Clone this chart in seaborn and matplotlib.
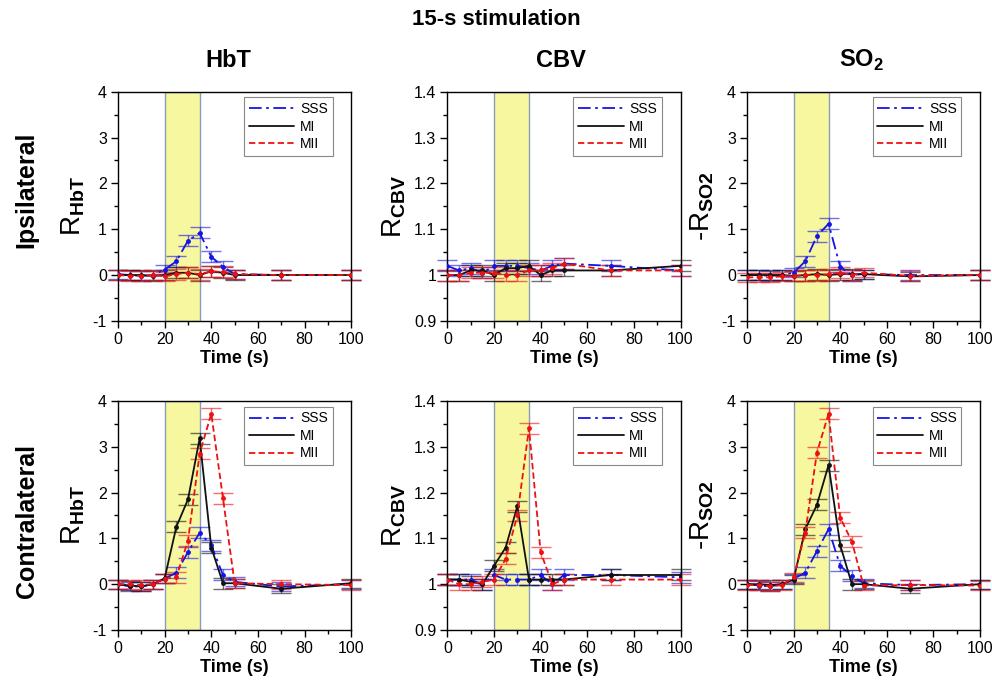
import pandas as pd
import matplotlib.pyplot as plt
import seaborn as sns
from matplotlib.lines import Line2D
from matplotlib.ticker import MultipleLocator

sns.set_theme(style="ticks")
plt.rcParams['font.family'] = ['Liberation Sans', 'DejaVu Sans']
plt.rcParams['mathtext.fontset'] = 'custom'
plt.rcParams['mathtext.rm'] = 'Liberation Sans'
plt.rcParams['mathtext.bf'] = 'Liberation Sans:bold'
plt.rcParams['axes.unicode_minus'] = False
plt.rcParams['text.color'] = 'black'
plt.rcParams['axes.labelcolor'] = 'black'

# time points (s)
time = [0, 5, 10, 15, 20, 25, 30, 35, 40, 45, 50, 70, 100]

# Ipsilateral
ip_hbt_sss = [0.02, 0.0, -0.02, 0.0, 0.12, 0.3, 0.75, 0.92, 0.4, 0.18, 0.02, 0.0, 0.0]
ip_hbt_mi = [0.0, 0.0, 0.0, -0.02, 0.0, 0.05, 0.05, 0.0, 0.08, 0.05, 0.0, 0.0, 0.0]
ip_hbt_mii = [0.0, -0.02, -0.02, 0.0, -0.03, 0.02, 0.05, 0.02, 0.08, 0.07, 0.02, 0.0, 0.0]

ip_cbv_sss = [1.02, 1.01, 1.015, 1.005, 1.02, 1.02, 1.02, 1.015, 1.01, 1.02, 1.025, 1.02, 1.01]
ip_cbv_mi = [1.0, 1.0, 1.01, 1.01, 1.0, 1.015, 1.015, 1.02, 1.0, 1.01, 1.01, 1.01, 1.02]
ip_cbv_mii = [1.0, 1.0, 1.005, 1.005, 1.005, 1.0, 1.0, 1.01, 1.01, 1.015, 1.025, 1.01, 1.01]

ip_so2_sss = [0.0, 0.0, -0.02, 0.0, 0.05, 0.3, 0.85, 1.12, 0.18, 0.0, 0.02, 0.0, 0.0]
ip_so2_mi = [0.0, 0.0, 0.0, 0.0, -0.02, 0.0, 0.02, 0.0, 0.02, 0.02, 0.02, -0.03, 0.0]
ip_so2_mii = [-0.05, -0.05, -0.05, -0.03, -0.02, 0.0, 0.0, 0.02, 0.05, 0.0, 0.05, -0.02, 0.0]

# Contralateral
co_hbt_sss = [0.0, -0.05, -0.05, 0.0, 0.12, 0.25, 0.7, 1.12, 0.85, 0.2, 0.05, -0.05, 0.0]
co_hbt_mi = [0.0, -0.03, -0.05, 0.0, 0.13, 1.25, 1.85, 3.18, 0.8, 0.02, 0.02, -0.1, 0.02]
co_hbt_mii = [0.0, 0.0, -0.02, 0.0, 0.12, 0.15, 0.95, 2.85, 3.72, 1.88, 0.02, 0.0, -0.02]

co_cbv_sss = [1.01, 1.01, 1.01, 1.0, 1.02, 1.01, 1.01, 1.01, 1.02, 1.0, 1.02, 1.02, 1.015]
co_cbv_mi = [1.01, 1.01, 1.005, 1.0, 1.04, 1.08, 1.17, 1.01, 1.01, 1.01, 1.01, 1.02, 1.02]
co_cbv_mii = [1.01, 1.0, 1.0, 1.005, 1.01, 1.055, 1.15, 1.34, 1.07, 1.0, 1.01, 1.01, 1.01]

co_so2_sss = [0.0, -0.03, -0.05, 0.0, 0.12, 0.25, 0.72, 1.2, 0.4, 0.18, 0.02, -0.02, 0.0]
co_so2_mi = [0.0, 0.0, -0.02, 0.0, 0.1, 1.2, 1.73, 2.6, 0.85, 0.0, 0.0, -0.1, 0.0]
co_so2_mii = [-0.02, -0.02, -0.05, -0.02, 0.15, 1.12, 2.87, 3.72, 1.45, 0.93, -0.03, -0.02, -0.03]

# error bar half-widths
err_r = [0.1, 0.1, 0.1, 0.1, 0.1, 0.12, 0.12, 0.12, 0.12, 0.12, 0.1, 0.1, 0.1]
err_cbv = [0.012, 0.012, 0.012, 0.012, 0.012, 0.012, 0.012, 0.012, 0.012, 0.012, 0.012, 0.012, 0.012]

series_names = ['SSS', 'MI', 'MII']
colors = {'SSS': '#1414e6', 'MI': '#111111', 'MII': '#ee1111'}
dashes = {'SSS': (7, 2.5, 1.5, 2.5), 'MI': (), 'MII': (3.5, 1.8)}

panels = [
    (0, 0, [ip_hbt_sss, ip_hbt_mi, ip_hbt_mii], err_r, r'R$_{\mathbf{HbT}}$'),
    (0, 1, [ip_cbv_sss, ip_cbv_mi, ip_cbv_mii], err_cbv, r'R$_{\mathbf{CBV}}$'),
    (0, 2, [ip_so2_sss, ip_so2_mi, ip_so2_mii], err_r, r'-R$_{\mathbf{SO2}}$'),
    (1, 0, [co_hbt_sss, co_hbt_mi, co_hbt_mii], err_r, r'R$_{\mathbf{HbT}}$'),
    (1, 1, [co_cbv_sss, co_cbv_mi, co_cbv_mii], err_cbv, r'R$_{\mathbf{CBV}}$'),
    (1, 2, [co_so2_sss, co_so2_mi, co_so2_mii], err_r, r'-R$_{\mathbf{SO2}}$'),
]

fig = plt.figure(figsize=(9.92, 6.9), dpi=100)
lefts = [0.119, 0.451, 0.753]
bottoms = [0.535, 0.087]
w, h = 0.235, 0.332

for row, col, vals, err, ylab in panels:
    ax = fig.add_axes([lefts[col], bottoms[row], w, h])
    ax.axvspan(20, 35, facecolor='#f7f7a0', edgecolor='#8a9cb8', lw=1.0, zorder=0)
    for name, v in zip(series_names, vals):
        df = pd.DataFrame({'t': time, 'y': v})
        sns.lineplot(data=df, x='t', y='y', ax=ax, color=colors[name], lw=1.3,
                     marker='o', markersize=3.5, markeredgewidth=0, zorder=3)
        ln = ax.lines[-1]
        if dashes[name]:
            ln.set_dashes(dashes[name])
        ax.errorbar(time, v, yerr=err, fmt='none', ecolor=colors[name], elinewidth=1,
                    capsize=7, capthick=1, alpha=0.6, clip_on=False, zorder=2)
    ax.set_xlim(0, 100)
    if col == 1:
        ax.set_ylim(0.9, 1.4)
        ax.set_yticks([0.9, 1.0, 1.1, 1.2, 1.3, 1.4])
        ax.set_yticklabels(['0.9', '1', '1.1', '1.2', '1.3', '1.4'])
        ax.yaxis.set_minor_locator(MultipleLocator(0.05))
    else:
        ax.set_ylim(-1, 4)
        ax.yaxis.set_major_locator(MultipleLocator(1))
        ax.yaxis.set_minor_locator(MultipleLocator(0.5))
    ax.xaxis.set_major_locator(MultipleLocator(20))
    ax.xaxis.set_minor_locator(MultipleLocator(10))
    ax.tick_params(which='major', direction='out', length=5, width=1, labelsize=11.5,
                   colors='black', pad=3)
    ax.tick_params(which='minor', direction='out', length=3, width=1, colors='black')
    for sp in ax.spines.values():
        sp.set_color('black')
        sp.set_linewidth(1)
    ax.set_xlabel('Time (s)', fontsize=13, fontweight='bold', labelpad=2)
    ax.set_ylabel(ylab, fontsize=20, labelpad=4)
    handles = []
    for n in series_names:
        hd = Line2D([0], [0], color=colors[n], lw=1.3)
        if dashes[n]:
            hd.set_dashes(dashes[n])
        handles.append(hd)
    leg = ax.legend(handles, series_names, loc='upper right', bbox_to_anchor=(0.92, 0.975),
                    borderaxespad=0, fontsize=10, handlelength=3.3, handletextpad=0.4,
                    borderpad=0.35, labelspacing=0.25, fancybox=False, framealpha=1,
                    edgecolor='#888888')
    leg.get_frame().set_linewidth(0.8)

fig.text(0.5, 0.972, '15-s stimulation', ha='center', va='center', fontsize=16, fontweight='bold')
fig.text(0.23, 0.912, 'HbT', ha='center', va='center', fontsize=17, fontweight='bold')
fig.text(0.565, 0.912, 'CBV', ha='center', va='center', fontsize=17, fontweight='bold')
fig.text(0.868, 0.912, r'SO$_\mathbf{2}$', ha='center', va='center', fontsize=17, fontweight='bold')
fig.text(0.027, 0.725, 'Ipsilateral', ha='center', va='center', rotation=90, fontsize=18, fontweight='bold')
fig.text(0.027, 0.245, 'Contralateral', ha='center', va='center', rotation=90, fontsize=18, fontweight='bold')

fig.savefig('out.png', dpi=100)
